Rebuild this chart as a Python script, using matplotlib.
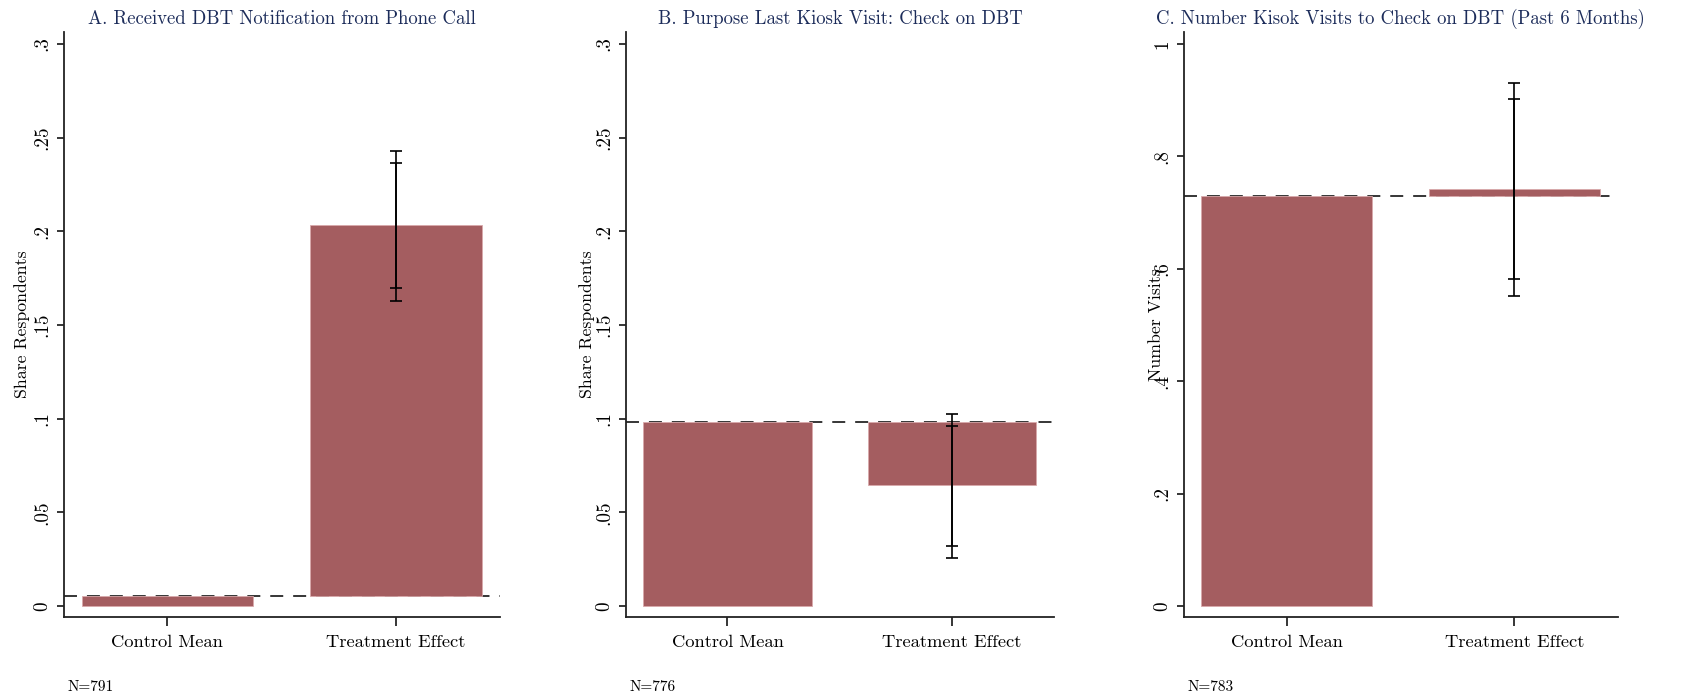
import matplotlib.pyplot as plt

plt.rcParams['font.family'] = 'cmr10'
plt.rcParams['axes.formatter.use_mathtext'] = True

# Panel data: control mean, treatment effect, and 90% / 95% confidence bounds
titles = ["A. Received DBT Notification from Phone Call",
          "B. Purpose Last Kiosk Visit: Check on DBT",
          "C. Number Kisok Visits to Check on DBT (Past 6 Months)"]
ylabels = ["Share Respondents", "Share Respondents", "Number Visits"]
sample_sizes = ["N=791", "N=776", "N=783"]
categories = ["Control Mean", "Treatment Effect"]

control_means = [0.0053, 0.0982, 0.7295]
effects = [0.1980, -0.0336, 0.0119]
ci90_low = [0.1698, 0.0320, 0.5813]
ci90_high = [0.2365, 0.0963, 0.9020]
ci95_low = [0.1628, 0.0258, 0.5516]
ci95_high = [0.2429, 0.1027, 0.9306]

yticks = [[0, 0.05, 0.1, 0.15, 0.2, 0.25, 0.3],
          [0, 0.05, 0.1, 0.15, 0.2, 0.25, 0.3],
          [0, 0.2, 0.4, 0.6, 0.8, 1.0]]
yticklabels = [["0", ".05", ".1", ".15", ".2", ".25", ".3"],
               ["0", ".05", ".1", ".15", ".2", ".25", ".3"],
               ["0", ".2", ".4", ".6", ".8", "1"]]
ylims = [(-0.0059, 0.3064), (-0.0059, 0.3064), (-0.0196, 1.0214)]

bar_color = "#a45d60"
title_color = "#1c2c5a"

fig = plt.figure(figsize=(17.03, 6.99), dpi=100)
positions = [[0.0376, 0.1173, 0.2560, 0.8369],
             [0.3676, 0.1173, 0.2513, 0.8369],
             [0.6952, 0.1173, 0.2548, 0.8369]]
label_x = [-0.078, -0.072, -0.045]

for i in range(3):
    ax = fig.add_axes(positions[i])
    cm = control_means[i]
    te = effects[i]

    ax.axhline(cm, color="black", linestyle=(0, (8.5, 6.5)), linewidth=1.1, zorder=1)
    ax.bar(0, cm, width=0.75, color=bar_color, edgecolor="#d9a9ab",
           linewidth=0.6, zorder=2)
    ax.bar(1, te, bottom=cm, width=0.75, color=bar_color, edgecolor="#d9a9ab",
           linewidth=0.6, zorder=2)

    # two confidence bands drawn on the same whisker
    for lo, hi in [(ci95_low[i], ci95_high[i]), (ci90_low[i], ci90_high[i])]:
        center = cm + te
        ax.errorbar(1, center, yerr=[[center - lo], [hi - center]], fmt="none",
                    ecolor="black", elinewidth=1.2, capsize=4, capthick=1.2,
                    zorder=3)

    ax.set_xlim(-0.452, 1.455)
    ax.set_ylim(*ylims[i])
    ax.set_xticks([0, 1])
    ax.set_xticklabels(categories, fontsize=13.3)
    ax.set_yticks(yticks[i])
    ax.set_yticklabels(yticklabels[i], fontsize=13.8, rotation=90, va="center")
    ax.tick_params(axis="y", length=5, width=1.1, pad=4)
    ax.tick_params(axis="x", length=6.5, width=1.1, pad=6)

    for side in ["top", "right"]:
        ax.spines[side].set_visible(False)
    for side in ["left", "bottom"]:
        ax.spines[side].set_linewidth(1.3)
        ax.spines[side].set_color("#222222")

    ax.set_ylabel(ylabels[i], fontsize=12.8)
    ax.yaxis.set_label_coords(label_x[i], 0.5)
    ax.set_title(titles[i], fontsize=13.5, color=title_color, pad=6)

    fig.text(positions[i][0] + 0.002, 1 - 687 / 699, sample_sizes[i],
             fontsize=11, va="center", ha="left")

fig.savefig("out.png", dpi=100)
